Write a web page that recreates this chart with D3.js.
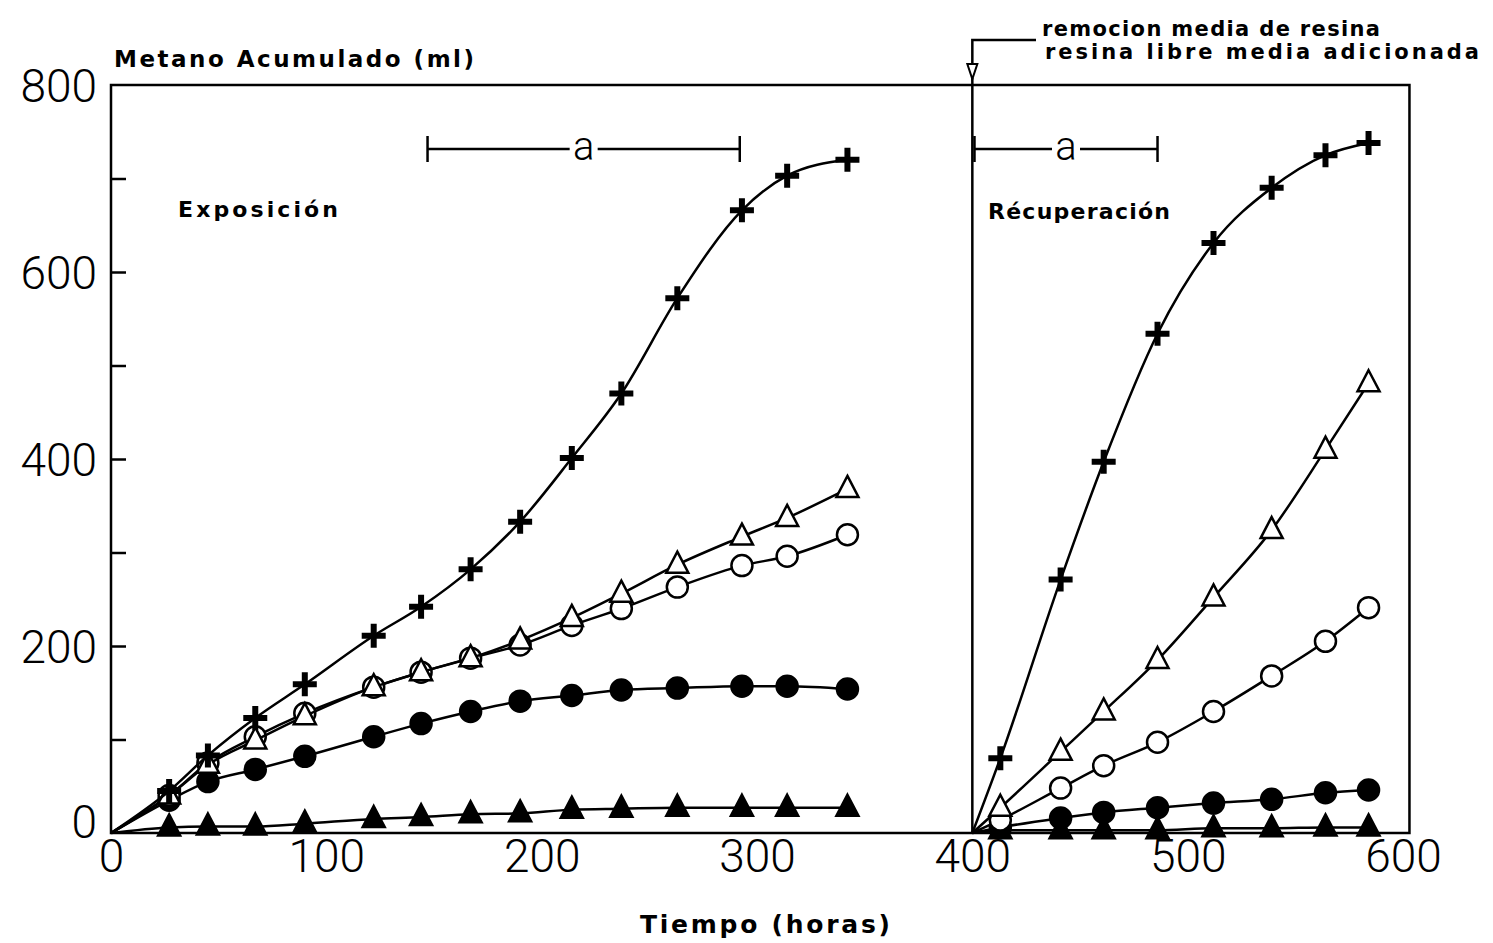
<!DOCTYPE html>
<html>
<head>
<meta charset="utf-8">
<script src="https://cdn.jsdelivr.net/npm/d3@7"></script>
<style>
  body { margin: 0; background: #fff; }
  .tick text { font-family: Roboto, "DejaVu Sans", sans-serif; font-weight: 300; }
  .lbl { font-family: "DejaVu Sans", sans-serif; font-weight: bold; fill: #000; }
</style>
</head>
<body>
<div id="chart"></div>
<script>
// data
var hoursExp = [27, 45, 67, 90, 122, 144, 167, 190, 214, 237, 263, 293, 314, 342];
var hoursRec = [413, 441, 461, 486, 512, 539, 564, 584];

var plusExp = [45, 83, 123, 159, 211, 242, 282, 333, 401, 470, 572, 666, 703, 720];
var triOpenExp = [40, 73, 99, 125, 156, 172, 187, 206, 230, 256, 287, 317, 337, 368];
var circOpenExp = [40, 75, 103, 128, 156, 172, 187, 201, 222, 240, 263, 286, 296, 319];
var circFillExp = [35, 55, 68, 82, 103, 117, 130, 141, 147, 153, 155, 157, 157, 154];
var triFillExp = [6, 7, 7, 10, 15, 17, 20, 21, 25, 26, 27, 27, 27, 27];

var plusRec = [80, 271, 397, 534, 631, 690, 725, 738];
var triOpenRec = [27, 87, 130, 185, 252, 324, 410, 481];
var circOpenRec = [14, 48, 72, 97, 130, 168, 205, 241];
var circFillRec = [6, 16, 22, 27, 32, 36, 43, 46];
var triFillRec = [3, 3, 3, 3, 5, 5, 6, 6];

var yTicks = [0, 200, 400, 600, 800];
var yMinor = [100, 200, 300, 400, 500, 600, 700];
var xTicks = [0, 100, 200, 300, 400, 500, 600];

var svgWidth = 1493;
var svgHeight = 943;

var svg = d3.select('#chart')
            .append('svg')
            .attr('width', svgWidth)
            .attr('height', svgHeight)
            .style('background', '#fff');

var x = d3.scaleLinear().domain([0, 600]).range([111, 1403]);
var y = d3.scaleLinear().domain([0, 800]).range([833, 85]);

var xEnd = x(603);

// frame
svg.append('path')
   .attr('d', `M${x(0)},${y(0)} V${y(800)} H${xEnd} V${y(0)} Z`)
   .attr('fill', 'none')
   .attr('stroke', '#000')
   .attr('stroke-width', 2.5);

// divider at 400 h
svg.append('line')
   .attr('x1', x(400)).attr('x2', x(400))
   .attr('y1', 78).attr('y2', y(0))
   .attr('stroke', '#000').attr('stroke-width', 2.5);

// arrow + pointer line up to the note
svg.append('path')
   .attr('d', `M${x(400)},64 V40 H1036`)
   .attr('fill', 'none').attr('stroke', '#000').attr('stroke-width', 2.5);
svg.append('path')
   .attr('d', `M${x(400) - 5},64 L${x(400) + 5},64 L${x(400)},79 Z`)
   .attr('fill', '#fff').attr('stroke', '#000').attr('stroke-width', 2);

svg.append('text').attr('class', 'lbl')
   .attr('x', 1042).attr('y', 36)
   .attr('font-size', 21)
   .attr('textLength', 338).attr('lengthAdjust', 'spacing')
   .text('remocion media  de resina');
svg.append('text').attr('class', 'lbl')
   .attr('x', 1045).attr('y', 59)
   .attr('font-size', 21)
   .attr('textLength', 434).attr('lengthAdjust', 'spacing')
   .text('resina  libre  media  adicionada');

// y axis inner ticks
var yTickAxis = d3.axisRight(y).tickValues(yMinor).tickSize(15).tickFormat('');
svg.append('g')
   .attr('transform', `translate(${x(0)},0)`)
   .call(yTickAxis)
   .call(g => g.select('.domain').remove())
   .call(g => g.selectAll('line').attr('stroke-width', 2.5));

// y labels
var yLabelAxis = d3.axisLeft(y).tickValues(yTicks).tickSize(0).tickPadding(14);
svg.append('g')
   .attr('transform', `translate(${x(0)},0)`)
   .call(yLabelAxis)
   .call(g => g.select('.domain').remove())
   .call(g => g.selectAll('text')
      .attr('font-size', 46)
      .attr('fill', '#000')
      .attr('dy', d => d === 0 ? '0.1em' : '0.35em'));

// x labels
var xLabelAxis = d3.axisBottom(x).tickValues(xTicks).tickSize(0).tickPadding(6);
svg.append('g')
   .attr('transform', `translate(0,${y(0)})`)
   .call(xLabelAxis)
   .call(g => g.select('.domain').remove())
   .call(g => g.selectAll('text').attr('font-size', 46).attr('fill', '#000'));

// titles
svg.append('text').attr('class', 'lbl')
   .attr('x', 114).attr('y', 67)
   .attr('font-size', 23)
   .attr('textLength', 360).attr('lengthAdjust', 'spacing')
   .text('Metano  Acumulado  (ml)');
svg.append('text').attr('class', 'lbl')
   .attr('x', 640).attr('y', 933)
   .attr('font-size', 25)
   .attr('textLength', 250).attr('lengthAdjust', 'spacing')
   .text('Tiempo  (horas)');
svg.append('text').attr('class', 'lbl')
   .attr('x', 178).attr('y', 217)
   .attr('font-size', 22)
   .attr('textLength', 160).attr('lengthAdjust', 'spacing')
   .text('Exposición');
svg.append('text').attr('class', 'lbl')
   .attr('x', 988).attr('y', 219)
   .attr('font-size', 22)
   .attr('textLength', 182).attr('lengthAdjust', 'spacing')
   .text('Récuperación');

// "a" interval bars
function intervalBar(h0, h1, yy) {
    var g = svg.append('g');
    var mid = (x(h0) + x(h1)) / 2;
    g.append('line').attr('x1', x(h0)).attr('x2', mid - 14).attr('y1', yy).attr('y2', yy);
    g.append('line').attr('x1', mid + 14).attr('x2', x(h1)).attr('y1', yy).attr('y2', yy);
    g.append('line').attr('x1', x(h0)).attr('x2', x(h0)).attr('y1', yy - 13).attr('y2', yy + 13);
    g.append('line').attr('x1', x(h1)).attr('x2', x(h1)).attr('y1', yy - 13).attr('y2', yy + 13);
    g.selectAll('line').attr('stroke', '#000').attr('stroke-width', 2.5);
    g.append('text')
     .attr('x', mid).attr('y', yy + 11)
     .attr('text-anchor', 'middle')
     .attr('font-family', 'Roboto, sans-serif').attr('font-weight', 300)
     .attr('font-size', 40)
     .text('a');
}
intervalBar(147, 292, 149);
intervalBar(401, 486, 149);

// series
var line = d3.line()
    .x(d => x(d[0]))
    .y(d => y(d[1]))
    .curve(d3.curveMonotoneX);

function series(hours, vals, start, marker) {
    var pts = [[start, 0]].concat(hours.map((h, i) => [h, vals[i]]));
    svg.append('path')
       .datum(pts)
       .attr('d', line)
       .attr('fill', 'none')
       .attr('stroke', '#000')
       .attr('stroke-width', 2.5);
    var g = svg.append('g');
    pts.slice(1).forEach(p => {
        var cx = x(p[0]), cy = y(p[1]);
        if (marker === 'plus') {
            g.append('path')
             .attr('d', `M${cx - 12},${cy} H${cx + 12} M${cx},${cy - 12} V${cy + 12}`)
             .attr('stroke', '#000').attr('stroke-width', 6);
        } else if (marker === 'circOpen' || marker === 'circFill') {
            g.append('circle')
             .attr('cx', cx).attr('cy', cy).attr('r', 10.5)
             .attr('fill', marker === 'circFill' ? '#000' : '#fff')
             .attr('stroke', '#000').attr('stroke-width', 2.5);
        } else {
            g.append('path')
             .attr('d', `M${cx},${cy - 13} L${cx + 11},${cy + 8} L${cx - 11},${cy + 8} Z`)
             .attr('fill', marker === 'triFill' ? '#000' : '#fff')
             .attr('stroke', '#000').attr('stroke-width', 2.5)
             .attr('stroke-linejoin', 'miter');
        }
    });
}

series(hoursExp, triFillExp, 0, 'triFill');
series(hoursExp, circFillExp, 0, 'circFill');
series(hoursExp, circOpenExp, 0, 'circOpen');
series(hoursExp, triOpenExp, 0, 'triOpen');
series(hoursExp, plusExp, 0, 'plus');

series(hoursRec, triFillRec, 400, 'triFill');
series(hoursRec, circFillRec, 400, 'circFill');
series(hoursRec, circOpenRec, 400, 'circOpen');
series(hoursRec, triOpenRec, 400, 'triOpen');
series(hoursRec, plusRec, 400, 'plus');
</script>
</body>
</html>
